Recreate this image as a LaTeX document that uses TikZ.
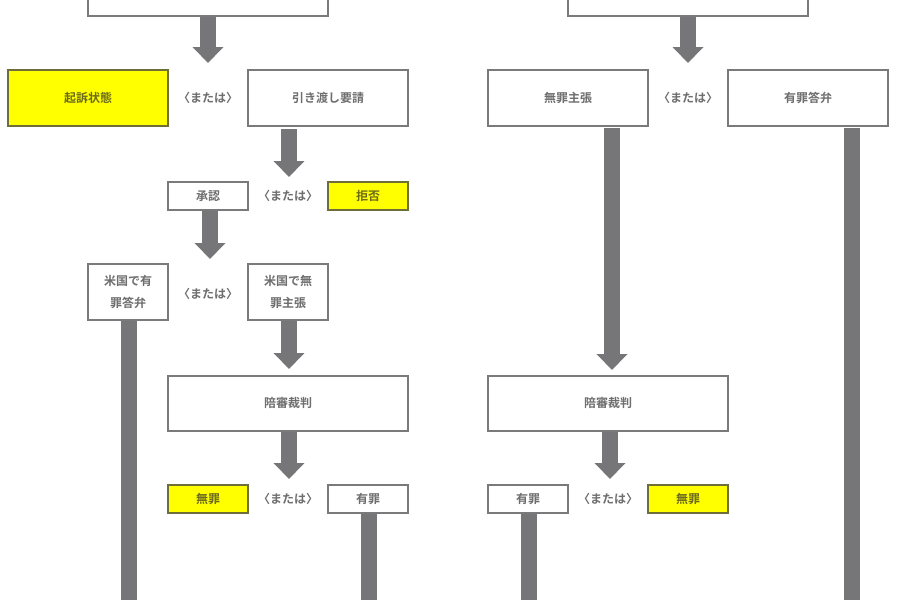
\documentclass[tikz,border=0pt]{standalone}
\usepackage{fontspec}
\setmainfont{Noto Sans CJK JP}[BoldFont={Noto Sans CJK JP Bold}]
\usetikzlibrary{arrows.meta}
\definecolor{bx}{HTML}{7A7A7A}
\definecolor{tx}{HTML}{6E6E6E}
\definecolor{yl}{HTML}{FFFF00}
\definecolor{ytx}{HTML}{6B6B1E}
\definecolor{ar}{HTML}{767679}
\tikzset{
 box/.style={draw=bx,line width=2pt,fill=white,text=tx,font=\fontsize{12}{16}\selectfont\bfseries,inner sep=0pt,align=center},
 ybox/.style={box,fill=yl,draw=bx!60!black!80!yellow,text=ytx},
 orl/.style={text=tx,font=\fontsize{12}{14}\selectfont\bfseries},
 garrow/.style={draw=ar,line width=16pt,-{Triangle[width=30pt,length=16pt]},fill=ar},
 gbar/.style={draw=ar,line width=16pt}
}
\newcommand{\bx}[6]{\node[#1,minimum width=#4-#3,minimum height=#6-#5] (#2) at ({(#3+#4)/2},{-(#5+#6)/2}) {};}
\begin{document}
\begin{tikzpicture}[x=1pt,y=1pt]
\useasboundingbox (0,0) rectangle (900,-600);
\fill[white] (0,0) rectangle (900,-600);
% boxes
\node[box,minimum width=240pt,minimum height=40pt] (topL) at (208,4) {};
\node[box,minimum width=240pt,minimum height=40pt] (topR) at (688,4) {};
\node[ybox,minimum width=160pt,minimum height=56pt] (kiso) at (88,-98) {起訴状態};
\node[box,minimum width=160pt,minimum height=56pt] (hiki) at (328,-98) {引き渡し要請};
\node[box,minimum width=160pt,minimum height=56pt] (muzaiS) at (568,-98) {無罪主張};
\node[box,minimum width=160pt,minimum height=56pt] (yuzaiT) at (808,-98) {有罪答弁};
\node[box,minimum width=80pt,minimum height=28pt] (shonin) at (208,-196) {承認};
\node[ybox,minimum width=80pt,minimum height=28pt] (kyohi) at (368,-196) {拒否};
\node[box,minimum width=80pt,minimum height=56pt] (usY) at (128,-292) {米国で有\\[6pt]罪答弁};
\node[box,minimum width=80pt,minimum height=56pt] (usM) at (288,-292) {米国で無\\[6pt]罪主張};
\node[box,minimum width=240pt,minimum height=55pt] (jL) at (288,-403) {陪審裁判};
\node[box,minimum width=240pt,minimum height=55pt] (jR) at (608,-403) {陪審裁判};
\node[ybox,minimum width=80pt,minimum height=28pt] (mL) at (208,-499) {無罪};
\node[box,minimum width=80pt,minimum height=28pt] (yL) at (368,-499) {有罪};
\node[box,minimum width=80pt,minimum height=28pt] (yR) at (528,-499) {有罪};
\node[ybox,minimum width=80pt,minimum height=28pt] (mR) at (688,-499) {無罪};
% or labels
\node[orl] (o1) at (208,-98) {〈または〉};
\node[orl] (o2) at (688,-98) {〈または〉};
\node[orl] (o3) at (288,-196) {〈または〉};
\node[orl] (o4) at (208,-294) {〈または〉};
\node[orl] (o5) at (288,-499) {〈または〉};
\node[orl] (o6) at (608,-499) {〈または〉};
% coordinates
\coordinate (a1s) at (208,-17); \coordinate (a1e) at (208,-63);
\coordinate (a2s) at (688,-17); \coordinate (a2e) at (688,-63);
\coordinate (a3s) at (289,-129); \coordinate (a3e) at (289,-177);
\coordinate (a4s) at (210,-211); \coordinate (a4e) at (210,-259);
\coordinate (a5s) at (289,-321); \coordinate (a5e) at (289,-369);
\coordinate (a6s) at (612,-128); \coordinate (a6e) at (612,-370);
\coordinate (a7s) at (289,-432); \coordinate (a7e) at (289,-479);
\coordinate (a8s) at (610,-432); \coordinate (a8e) at (610,-479);
\coordinate (b1s) at (129,-321); \coordinate (b1e) at (129,-602);
\coordinate (b2s) at (369,-514); \coordinate (b2e) at (369,-602);
\coordinate (b3s) at (529,-514); \coordinate (b3e) at (529,-602);
\coordinate (b4s) at (852,-128); \coordinate (b4e) at (852,-602);
\foreach \i in {1,...,8}{\draw[garrow] (a\i s) -- (a\i e);}
\foreach \i in {1,...,4}{\draw[gbar] (b\i s) -- (b\i e);}
\end{tikzpicture}
\end{document}
